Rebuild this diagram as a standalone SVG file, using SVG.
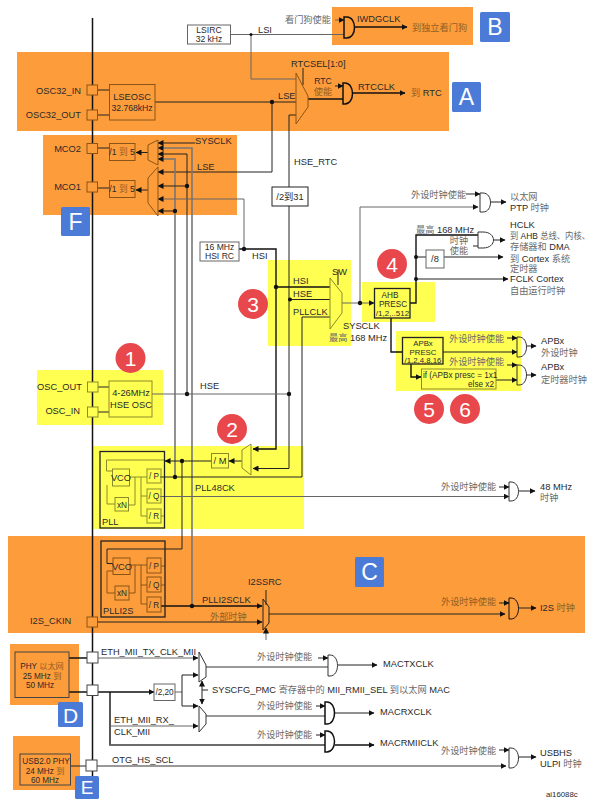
<svg xmlns="http://www.w3.org/2000/svg" width="597" height="799" viewBox="0 0 597 799">
<style>
text{font-family:"Liberation Sans","Noto Sans CJK SC",sans-serif;font-size:9.3px;fill:#2a2a2a}
.z{fill:#6a6a6a;font-size:9.2px}
.zo{fill:#8f5f25;font-size:9.2px}
.s{font-size:8.2px}
.n{font-size:8.6px}
.m{text-anchor:middle}
.e{text-anchor:end}
.l{fill:none;stroke:#222;stroke-width:1}
.g{fill:none;stroke:#666;stroke-width:1}
.t{fill:none;stroke:#777;stroke-width:1.6}
.k{fill:none;stroke:#111;stroke-width:1.4}
.a{marker-end:url(#ar)}
.o{fill:#fd9c3a}
.y{fill:#ffff52}
.ob{fill:none;stroke:#8a5517;stroke-width:1}
.yb{fill:none;stroke:#8b8b2a;stroke-width:1}
.wb{fill:#fff;stroke:#666;stroke-width:1}
.bb{fill:none;stroke:#222;stroke-width:1.3}
.pw{fill:#fff;stroke:#444;stroke-width:1}
.po{fill:#fd9c3a;stroke:#8a5517;stroke-width:1}
.py{fill:#ffff52;stroke:#8b8b2a;stroke-width:1}
.gate{fill:none;stroke:#333;stroke-width:1}
.gk{fill:none;stroke:#111;stroke-width:1.5}
.d{fill:#111}
.bl{fill:#4b7bd6}
.bt{fill:#fff;font-size:23px;text-anchor:middle}
.re{fill:#e8474c}
.rt{fill:#fff;font-size:21px;text-anchor:middle}
</style>
<defs>
<marker id="ar" markerWidth="6" markerHeight="6" refX="5.5" refY="3" orient="auto" markerUnits="userSpaceOnUse"><path d="M0 0L6 3L0 6Z" fill="#111"/></marker>
</defs>
<g id="regions">
<rect class="o" x="17" y="52" width="432" height="79"/>
<rect class="o" x="332" y="7" width="141" height="38"/>
<rect class="o" x="43" y="135" width="194" height="80"/>
<rect class="o" x="8" y="536" width="577" height="97"/>
<rect class="o" x="10" y="644" width="69" height="61"/>
<rect class="o" x="13" y="736" width="67" height="54"/>
<rect class="y" x="37" y="370" width="126" height="55"/>
<rect class="y" x="268" y="260" width="83" height="86"/>
<rect class="y" x="362" y="282" width="73" height="40"/>
<rect class="y" x="396" y="331" width="125" height="60"/>
<rect class="y" x="93" y="446" width="211" height="83"/>
</g>
<path id="bus" d="M92.500 18V790" fill="none" stroke="#111" stroke-width="1.5"/>
<g id="connectors">
<path class="g" d="M230 34.500H344"/>
<path class="g" d="M251 34.500V79H296"/>
<path class="g a" d="M335 20H344"/>
<path class="k a" d="M354 27H407"/>
<path class="l" d="M97 90H109M97 115H109M155 102H296"/>
<path class="l a" d="M272 102V172H158"/>
<path class="l" d="M303 68V85"/>
<path class="l a" d="M335 86H343"/>
<path class="k" d="M308 99H343"/>
<path class="k a" d="M352 93H405"/>
<path class="l" d="M289 187V115H296"/>
<path class="l" d="M289 206V394"/>
<path class="l a" d="M289 394V468.500H253"/>
<path class="l" d="M97 148H109M97 188H109"/>
<path class="l a" d="M148 152.500H136"/>
<path class="l a" d="M148 190H136"/>
<path class="l a" d="M195 143H158"/>
<path class="t a" d="M192 606V148H158"/>
<path class="l a" d="M187 394V154H158"/>
<path class="t a" d="M175 477V159H158"/>
<path class="l a" d="M187 186H158"/>
<path class="l a" d="M175 211H158"/>
<path class="g a" d="M244 249V199H158"/>
<path class="k" d="M239 249H276V287"/>
<path class="k a" d="M276 287V449H253"/>
<path class="k" d="M276 287H330"/>
<path class="g" d="M152 394H289"/>
<path class="l" d="M290 299.500H330"/>
<path class="l" d="M330 317H302V477H160"/>
<path class="l" d="M338 270V285"/>
<path class="g a" d="M342 303H374"/>
<path class="g a" d="M360 303V207H478"/>
<path class="l a" d="M466 194H480"/>
<path class="l a" d="M490 202H506"/>
<path class="k" d="M410 303H416V235H478"/>
<path class="l" d="M473 246H478"/>
<path class="l a" d="M494 240H505"/>
<path class="l" d="M416 257H426"/>
<path class="l a" d="M444 257H503"/>
<path class="l a" d="M416 279H508"/>
<path class="k" d="M391 318V352H402"/>
<path class="l a" d="M443 352H517"/>
<path class="l a" d="M507 338H517"/>
<path class="l a" d="M527 346H536"/>
<path class="k a" d="M411 364V377H421"/>
<path class="l a" d="M496 380H517"/>
<path class="l a" d="M507 365H517"/>
<path class="l a" d="M527 375H536"/>
<path class="l" d="M98 387H109M98 412H109"/>
<path class="l a" d="M242 461H229"/>
<path class="l a" d="M211 461H165"/>
<path class="l" d="M182 461V549H107V563.500H113"/>
<path class="yb" d="M165 460H106.500V471H112M107 485V504H115M128 505H135V477M129 477H147M141 477V516H147M141 496H147M161 516H165"/>
<path class="g a" d="M160 496.500H509"/>
<path class="l a" d="M499 487H509"/>
<path class="l a" d="M519 491H535"/>
<path class="ob" d="M113 571H107V593H115M129 593H135V565M130 565H147M141 565V604H147M141 585H147M161 566H165M161 585H165"/>
<path class="k a" d="M161 606H262"/>
<path class="l a" d="M97 622H262"/>
<path class="l" d="M266 590V605"/>
<path class="g a" d="M266 640V628"/>
<path class="l a" d="M269 614H505"/>
<path class="l a" d="M499 603H509"/>
<path class="l a" d="M519 608H536"/>
<path class="k" d="M69 658H87M69 692H87"/>
<path class="g a" d="M98 658H198"/>
<path class="k a" d="M98 692H154"/>
<path class="g" d="M175 692H182"/>
<path class="l a" d="M182 692V675H198"/>
<path class="l a" d="M182 692V706H198"/>
<path class="k" d="M110 692V745H325"/>
<path class="t" d="M110 745H325"/>
<path class="g a" d="M110 726H198"/>
<path class="l a" d="M202 692V681"/>
<path class="l a" d="M202 692V704"/>
<path class="l" d="M202 690H208"/>
<path class="t" d="M206 667H328"/>
<path class="l a" d="M318 658H328"/>
<path class="l a" d="M338 665H377"/>
<path class="t" d="M206 716H325"/>
<path class="l a" d="M316 706H325"/>
<path class="l a" d="M335 713H374"/>
<path class="l a" d="M316 735H325"/>
<path class="k a" d="M335 745H374"/>
<path class="l" d="M70 766H86"/>
<path class="t a" d="M97 766H506"/>
<path class="l a" d="M499 750H509"/>
<path class="l a" d="M519 757H536"/>
</g>
<g id="junctions">
<circle class="d" cx="251" cy="34.500" r="1.500"/>
<circle class="d" cx="272" cy="102" r="2.200"/>
<circle class="d" cx="187" cy="186" r="2.200"/>
<circle class="d" cx="175" cy="211" r="2.200"/>
<circle class="d" cx="244" cy="249" r="2.200"/>
<circle class="d" cx="276" cy="287" r="2.200"/>
<circle class="d" cx="290" cy="299.500" r="2"/>
<circle class="d" cx="360" cy="303" r="2.200"/>
<circle class="d" cx="416" cy="257" r="2"/>
<circle class="d" cx="416" cy="279" r="2"/>
<circle class="d" cx="187" cy="394" r="2.200"/>
<circle class="d" cx="289" cy="394" r="2.200"/>
<circle class="d" cx="175" cy="477" r="2.200"/>
<circle class="d" cx="182" cy="461" r="2.200"/>
<circle class="d" cx="192" cy="606" r="2.200"/>
</g>
<g id="lsirc"><rect class="wb" x="187.500" y="25" width="43" height="19"/><text class="m n" x="209" y="32.500">LSIRC</text><text class="m n" x="209" y="42">32 kHz</text><text x="258" y="33">LSI</text></g>
<g id="iwdg"><text class="z" x="285" y="23">看门狗使能</text><path class="gk" d="M344 17H347C357 17 357 38 347 38H344Z"/><text x="357" y="22">IWDGCLK</text><text class="zo" x="412" y="31">到独立看门狗</text></g>
<g id="rtcsel"><path class="ob" d="M296 73L308 96V107L296 124Z"/><text x="291" y="67">RTCSEL[1:0]</text><text class="m n" x="323" y="84">RTC</text><text class="m zo" x="323" y="95">使能</text></g>
<g id="rtc"><path class="gk" d="M343 83H345C355 83 355 104 345 104H343Z"/><text x="358" y="89.500">RTCCLK</text><text x="411" y="96"><tspan class="zo">到</tspan> RTC</text></g>
<g id="lseosc"><rect class="ob" x="109.500" y="84.500" width="45.500" height="35.500"/><text class="m" x="132" y="99.500">LSEOSC</text><text class="m n" x="132" y="110.500">32.768kHz</text><text x="278" y="99">LSE</text></g>
<g id="osc32in"><rect class="po" x="87" y="85" width="10.500" height="10"/><text class="e" x="81" y="93.500">OSC32_IN</text></g>
<g id="osc32out"><rect class="po" x="87" y="110" width="10.500" height="10"/><text class="e" x="81" y="118">OSC32_OUT</text></g>
<g id="mco2"><rect class="po" x="87" y="143.500" width="10.500" height="10"/><text class="e" x="81" y="152">MCO2</text><rect class="ob" x="109.500" y="143.500" width="25.500" height="17"/><text class="m n" x="122" y="155">/1 <tspan class="zo n">到</tspan> 5</text><path class="ob" d="M158 140L148 145V160L158 165Z"/><text x="195" y="144">SYSCLK</text></g>
<g id="mco1"><rect class="po" x="87" y="182" width="10.500" height="10"/><text class="e" x="81" y="190">MCO1</text><rect class="ob" x="109.500" y="180.500" width="25.500" height="17"/><text class="m n" x="122" y="192">/1 <tspan class="zo n">到</tspan> 5</text><path class="ob" d="M158 167L148 178V203L158 216Z"/><text x="197" y="170">LSE</text></g>
<g id="badgeF"><rect class="bl" x="61" y="207" width="29" height="29" rx="1.500"/><text class="bt" x="75.500" y="230">F</text></g>
<g id="badgeB"><rect class="bl" x="480" y="12" width="30" height="30" rx="1.500"/><text class="bt" x="495" y="35">B</text></g>
<g id="badgeA"><rect class="bl" x="452" y="82" width="29" height="30" rx="1.500"/><text class="bt" x="466.500" y="105">A</text></g>
<g id="badgeC"><rect class="bl" x="355" y="557" width="29" height="30" rx="1.500"/><text class="bt" x="369.500" y="580">C</text></g>
<g id="badgeD"><rect class="bl" x="58" y="702" width="25" height="25" rx="1.500"/><text class="bt" x="70.500" y="723" style="font-size:21px">D</text></g>
<g id="badgeE"><rect class="bl" x="75" y="776" width="24" height="23" rx="1.500"/><text class="bt" x="87" y="794" style="font-size:19px">E</text></g>
<g id="hsirc"><rect class="wb" x="200" y="242" width="39" height="19"/><text class="m n" x="219.500" y="249.500">16 MHz</text><text class="m n" x="219.500" y="259">HSI RC</text><text x="252" y="259">HSI</text><text x="294" y="165">HSE_RTC</text></g>
<g id="div31"><rect class="wb" x="272" y="187" width="36" height="19" style="stroke:#222"/><text class="m" x="290" y="200">/2到31</text></g>
<g id="sw"><path class="yb" d="M330 278L342 293V313L330 329Z"/><text x="332" y="275">SW</text><text x="293" y="284">HSI</text><text x="293" y="297">HSE</text><text x="293" y="315">PLLCLK</text></g>
<text x="343" y="329">SYSCLK</text>
<text x="329" y="341"><tspan class="z">最高</tspan> 168 MHz</text>
<g id="ptp"><text class="z" x="411" y="198">外设时钟使能</text><path class="gate" d="M480 193H483C493 193 493 212 483 212H480Z"/><text class="z" x="510" y="200">以太网</text><text x="510" y="211">PTP <tspan class="z">时钟</tspan></text></g>
<g id="hclk"><text x="416" y="233"><tspan class="z">最高</tspan> 168 MHz</text><text class="m z" x="459" y="244">时钟</text><text class="m z" x="459" y="254">使能</text><path class="gate" d="M478 232H483C497 232 497 248 483 248H478Z"/><text x="510" y="228">HCLK</text><text x="510" y="239" textLength="80" lengthAdjust="spacingAndGlyphs"><tspan class="z">到</tspan> AHB <tspan class="z">总线、内核、</tspan></text><text class="z" x="510" y="250">存储器和 <tspan style="fill:#2a2a2a">DMA</tspan></text><text x="510" y="262"><tspan class="z">到</tspan> Cortex <tspan class="z">系统</tspan></text><text class="z" x="510" y="272">定时器</text><text x="510" y="282">FCLK Cortex</text><text class="z" x="510" y="294">自由运行时钟</text></g>
<g id="div8"><rect class="wb" x="426" y="250" width="18" height="18"/><text class="m" x="435" y="262">/8</text></g>
<g id="ahb"><rect class="bb" x="374.500" y="288.500" width="35.500" height="29.500"/><text class="m s" x="390" y="297.500">AHB</text><text class="m s" x="393" y="306.500">PRESC</text><text class="m s" x="392.500" y="315.500" style="font-size:8px">/1,2,..512</text></g>
<g id="apbx"><rect class="bb" x="402.500" y="337.500" width="40.500" height="26.500"/><text class="m" x="423" y="345.500" style="font-size:7.800px">APBx</text><text class="m" x="423" y="354.500" style="font-size:7.800px">PRESC</text><text class="m" x="423" y="362.800" style="font-size:7.800px">/1,2,4,8,16</text></g>
<g id="timer-mult"><rect class="yb" x="421.500" y="369" width="74.500" height="20"/><text class="s" x="423" y="378">if (APBx presc = 1x1</text><text class="e s" x="494" y="387">else x2</text></g>
<g id="apb-periph"><text class="z" x="449" y="342">外设时钟使能</text><path class="gate" d="M517 337H519C529 337 529 357 519 357H517Z"/><text x="541" y="344">APBx</text><text class="z" x="541" y="356">外设时钟</text></g>
<g id="apb-timer"><text class="z" x="449" y="365">外设时钟使能</text><path class="gate" d="M517 365H519C529 365 529 385 519 385H517Z"/><text x="541" y="370">APBx</text><text class="z" x="541" y="383">定时器时钟</text></g>
<g id="hse"><rect class="yb" x="109" y="381" width="43" height="36"/><text class="m" x="131" y="396">4-26MHz</text><text class="m" x="131" y="408">HSE OSC</text><text x="200" y="389">HSE</text></g>
<g id="oscout"><rect class="py" x="87.500" y="382" width="10.500" height="10"/><text class="e" x="82" y="390">OSC_OUT</text></g>
<g id="oscin"><rect class="py" x="87.500" y="407" width="10.500" height="10"/><text class="e" x="80" y="414">OSC_IN</text></g>
<g id="badge1"><circle class="re" cx="130.500" cy="358" r="15"/><text class="rt" x="130.500" y="365.500">1</text></g>
<g id="badge2"><circle class="re" cx="232" cy="429" r="15"/><text class="rt" x="232" y="436.500">2</text></g>
<g id="badge3"><circle class="re" cx="253" cy="304" r="15"/><text class="rt" x="253" y="311.500">3</text></g>
<g id="badge4"><circle class="re" cx="392" cy="264" r="15"/><text class="rt" x="392" y="271.500">4</text></g>
<g id="badge5"><circle class="re" cx="429" cy="409" r="15"/><text class="rt" x="429" y="416.500">5</text></g>
<g id="badge6"><circle class="re" cx="465" cy="409" r="15"/><text class="rt" x="465" y="416.500">6</text></g>
<g id="mmux"><path class="yb" d="M251 444L242 450V468L251 475Z"/></g>
<g id="divm"><rect class="yb" x="211.500" y="453.500" width="17" height="14.500"/><text class="m" x="220" y="464">/ M</text></g>
<g id="pll"><rect class="bb" x="100" y="451.500" width="64.500" height="76.500"/><rect class="yb" x="112.500" y="469" width="17" height="17"/><text class="m" x="121" y="481">VCO</text><rect class="yb" x="115" y="497.500" width="13.500" height="13.500"/><text class="m s" x="122" y="507.500">xN</text><rect class="yb" x="147" y="469" width="14" height="14"/><text class="m s" x="154" y="479">/ P</text><rect class="yb" x="147" y="489" width="14" height="14"/><text class="m s" x="154" y="499">/ Q</text><rect class="yb" x="147" y="509" width="14" height="14"/><text class="m s" x="154" y="519">/ R</text><text x="102" y="525">PLL</text><text x="195" y="491">PLL48CK</text></g>
<g id="o48"><text class="z" x="441" y="490">外设时钟使能</text><path class="gate" d="M509 482H511C521 482 521 501 511 501H509Z"/><text x="540" y="490">48 MHz</text><text class="z" x="540" y="501">时钟</text></g>
<g id="plli2s"><rect class="bb" x="101" y="541" width="64" height="76"/><rect class="ob" x="113" y="558" width="17" height="16.500"/><text class="m" x="122" y="570">VCO</text><rect class="ob" x="115" y="586" width="14" height="14"/><text class="m s" x="122" y="596">xN</text><rect class="ob" x="147" y="558" width="14" height="15"/><text class="m s" x="154" y="568.500">/ P</text><rect class="ob" x="147" y="577" width="14" height="15"/><text class="m s" x="154" y="587.500">/ Q</text><rect class="ob" x="147" y="597" width="14" height="15"/><text class="m s" x="154" y="607.500">/ R</text><text x="103" y="614">PLLI2S</text></g>
<g id="i2ssrc"><path class="ob" style="stroke:#222" d="M263 599L269 607V623L263 630Z"/><text x="248" y="585">I2SSRC</text><text x="202" y="603">PLLI2SCLK</text><text class="zo" x="210" y="620">外部时钟</text></g>
<g id="i2sckin"><rect class="po" x="87" y="617" width="10.500" height="10"/><text x="30" y="624">I2S_CKIN</text></g>
<g id="i2sout"><text class="zo" x="441" y="605">外设时钟使能</text><path class="gk" style="stroke-width:1" d="M509 598H511C521 598 521 619 511 619H509Z"/><text x="540" y="611">I2S <tspan class="zo">时钟</tspan></text></g>
<g id="phy"><rect class="ob" style="stroke:#444" x="15" y="652" width="54" height="45.500"/><text class="m s" x="42" y="669">PHY <tspan class="zo s">以太网</tspan></text><text class="m s" x="42" y="678.500">25 MHz <tspan class="zo s">到</tspan></text><text class="m s" x="40" y="688">50 MHz</text></g>
<g id="padtx"><rect class="pw" x="87" y="652" width="11" height="11"/><text x="101" y="655">ETH_MII_TX_CLK_MII</text></g>
<g id="padrx"><rect class="pw" x="87" y="685" width="11" height="10.500"/></g>
<g id="div220"><rect class="wb" x="154" y="684" width="21" height="16.500"/><text class="m s" x="164.500" y="695">/2,20</text></g>
<g id="ethmux1"><path class="gate" d="M199 652L206 665V677L199 682Z"/></g>
<g id="ethmux2"><path class="gate" d="M199 706L206 714V724L199 732Z"/></g>
<g id="ethtext"><text x="114" y="723">ETH_MII_RX_</text><text x="114" y="735">CLK_MII</text><text x="212" y="693">SYSCFG_PMC <tspan class="z">寄存器中的</tspan> MII_RMII_SEL <tspan class="z">到以太网</tspan> MAC</text></g>
<g id="mactx"><text class="z" x="257" y="660">外设时钟使能</text><path class="gate" d="M328 655H330C340 655 340 676 330 676H328Z"/><text x="383" y="667">MACTXCLK</text></g>
<g id="macrx"><text class="z" x="257" y="709">外设时钟使能</text><path class="gk" d="M325 702H327C337 702 337 724 327 724H325Z"/><text x="380" y="715">MACRXCLK</text></g>
<g id="macrmii"><text class="z" x="257" y="738">外设时钟使能</text><path class="gk" d="M325 731H327C337 731 337 752 327 752H325Z"/><text x="380" y="746">MACRMIICLK</text></g>
<g id="usbphy"><rect class="ob" style="stroke:#444" x="20" y="754" width="50.500" height="31"/><text class="m s" x="46" y="763.500">USB2.0 PHY</text><text class="m s" x="45" y="773.500">24 MHz <tspan class="zo s">到</tspan></text><text class="m s" x="45" y="783">60 MHz</text></g>
<g id="padusb"><rect class="pw" x="86" y="760" width="11" height="11"/><text x="112" y="763">OTG_HS_SCL</text></g>
<g id="usbout"><text class="z" x="441" y="754">外设时钟使能</text><path class="gate" d="M509 748H511C521 748 521 768 511 768H509Z"/><text x="540" y="756">USBHS</text><text x="540" y="767">ULPI <tspan class="z">时钟</tspan></text></g>
<text x="546" y="796.500" style="font-size:7.800px">ai16088c</text>
</svg>
